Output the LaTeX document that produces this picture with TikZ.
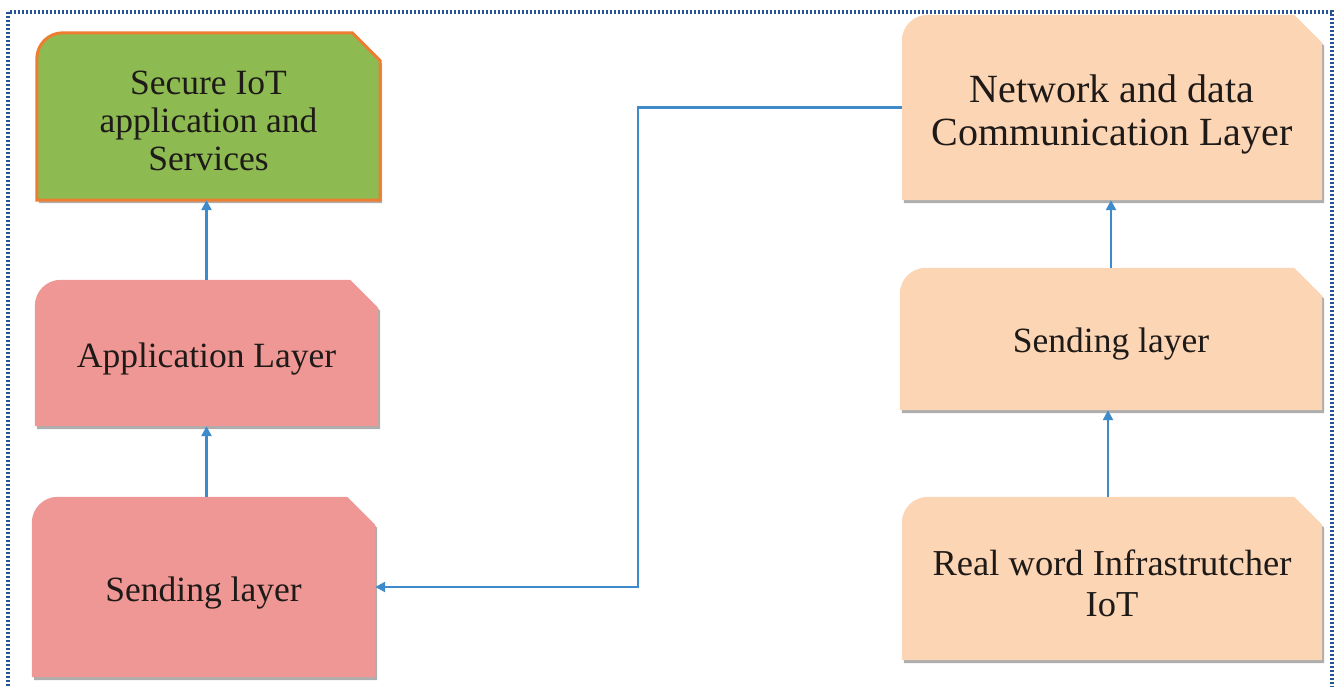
\documentclass[tikz,border=0pt]{standalone}
\usepackage{fontspec}
\setmainfont{Liberation Serif}
\usetikzlibrary{shadows,arrows.meta,backgrounds}

\definecolor{leafgreen}{RGB}{141,187,82}
\definecolor{edgeorange}{RGB}{237,125,49}
\definecolor{rosefill}{RGB}{239,151,149}
\definecolor{peachfill}{RGB}{252,213,181}
\definecolor{linkblue}{RGB}{62,138,202}
\definecolor{frameblue}{RGB}{36,84,148}
\definecolor{inkdark}{RGB}{30,26,24}

\tikzset{
  card/.style={draw=none, inner sep=0pt},
  caption/.style={inner sep=0pt, align=center, text=inkdark,
    font=\fontsize{35.5}{38}\selectfont},
  link/.style={draw=linkblue, line width=2.4pt,
    -{Triangle[length=10pt,width=10pt]}},
  boxshadow/.style={drop shadow={shadow xshift=2pt, shadow yshift=-3pt,
    opacity=0.45, fill=black!70}}
}

% card outline: rounded top-left corner, snipped top-right corner
\newcommand\cardshape[3]{%
  \path[fill=#2, #3, boxshadow]
    (#1.south west) -- ([yshift=-26pt]#1.north west)
    arc[start angle=180, end angle=90, radius=26pt]
    -- ([xshift=-28pt]#1.north east) -- ([yshift=-28pt]#1.north east)
    -- (#1.south east) -- cycle;}

\begin{document}
\begin{tikzpicture}[x=1pt, y=-1pt]
  \useasboundingbox (0,0) rectangle (1335,686);
  \clip (0,0) rectangle (1335,686);

  % outer dotted frame
  \draw[frameblue, line width=3.2pt, dash pattern=on 2pt off 2pt]
    (8,12) rectangle (1332,700);

  % card geometry
  \node[card, minimum width=343pt, minimum height=167pt] (sec)   at (208.5,116.5) {};
  \node[card, minimum width=343pt, minimum height=146pt] (app)   at (206.5,353)   {};
  \node[card, minimum width=343pt, minimum height=180pt] (sendL) at (203.5,587)   {};
  \node[card, minimum width=420pt, minimum height=185pt] (net)   at (1112,107.5)  {};
  \node[card, minimum width=422pt, minimum height=142pt] (sendR) at (1111,339)    {};
  \node[card, minimum width=420pt, minimum height=163pt] (real)  at (1112,578.5)  {};

  \begin{pgfonlayer}{background}
    \cardshape{sec}{leafgreen}{draw=edgeorange, line width=3pt}
    \cardshape{app}{rosefill}{}
    \cardshape{sendL}{rosefill}{}
    \cardshape{net}{peachfill}{}
    \cardshape{sendR}{peachfill}{}
    \cardshape{real}{peachfill}{}
  \end{pgfonlayer}

  % captions
  \node[caption] (secT) at ([yshift=-4pt]sec.center) {Secure IoT\\application and\\Services};
  \node[caption] (appT) at ([yshift=-6pt]app.center) {Application Layer};
  \node[caption] (sendLT) at ([yshift=-6pt]sendL.center) {Sending layer};
  \node[caption, font=\fontsize{40}{43}\selectfont] (netT) at ([yshift=-7pt]net.center)
    {Network and data\\Communication Layer};
  \node[caption] (sendRT) at ([yshift=-5pt]sendR.center) {Sending layer};
  \node[caption, font=\fontsize{36.5}{41}\selectfont] (realT) at ([yshift=-5pt]real.center)
    {Real word Infrastrutcher\\IoT};

  % connectors
  \coordinate (elbow) at (638,587);
  \draw[link] (app.north) -- (app.north |- sec.south);
  \draw[link] (app.south |- sendL.north) -- (app.south);
  \draw[link] (sendR.north) -- (sendR.north |- net.south);
  \draw[link] ([xshift=-4pt]real.north) -- ([xshift=-4pt]real.north |- sendR.south);
  \draw[link] (net.west) -| (elbow) -- (sendL.east);
\end{tikzpicture}
\end{document}
